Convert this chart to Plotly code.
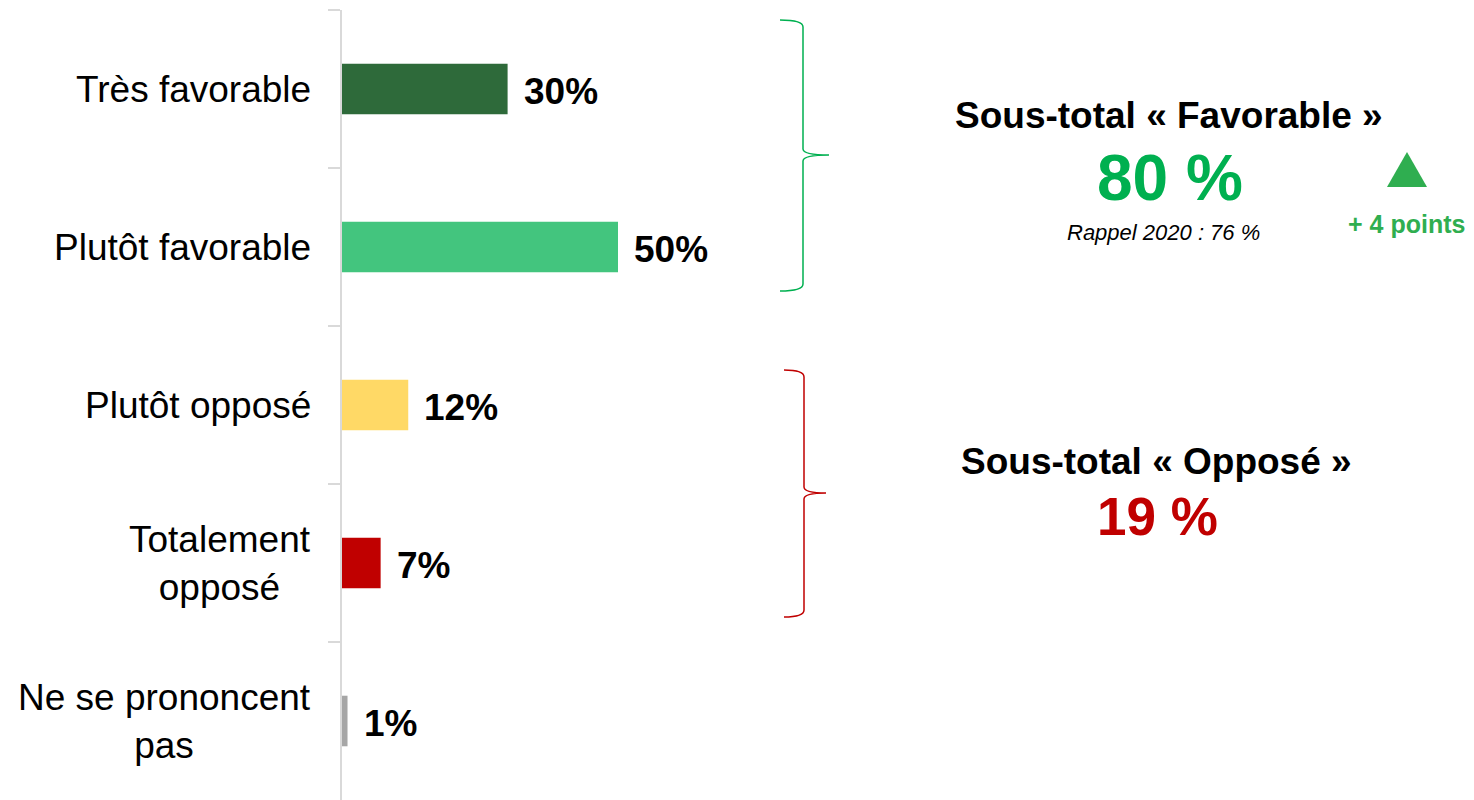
import plotly.graph_objects as go

# ---- data ----
categories = ["Très favorable", "Plutôt favorable", "Plutôt opposé",
              "Totalement<br>opposé", "Ne se prononcent<br>pas"]
values = [30, 50, 12, 7, 1]
bar_colors = ["#2e6a3a", "#43c57e", "#ffd966", "#c00000", "#a6a6a6"]
value_labels = ["30%", "50%", "12%", "7%", "1%"]

fav_title = "Sous-total « Favorable »"
fav_value = "80 %"
fav_reminder = "Rappel 2020 : 76 %"
fav_change = "+ 4 points"
opp_title = "Sous-total « Opposé »"
opp_value = "19 %"

# page body has an 8px margin: work in screen pixels, convert to figure
OFF = 8
W, H = 1474 - 2 * OFF, 800 - OFF
ML, MR, MT, MB = 342 - OFF, 0, 10 - OFF, 0
PW, PH = W - ML - MR, H - MT - MB
PX_PER_UNIT = 5.52
FONT = "Arial, Liberation Sans, sans-serif"


def px(x):
    return (x - OFF - ML) / PW


def py(y):
    return (H - MB - (y - OFF)) / PH


fig = go.Figure()
fig.add_trace(go.Bar(
    x=values, y=categories, orientation="h",
    marker=dict(color=bar_colors, line=dict(width=0)),
    width=0.32, hoverinfo="skip", showlegend=False,
))

annotations = []
for cat, lab, v in zip(categories, value_labels, values):
    annotations.append(dict(
        x=0, y=cat, xref="paper", yref="y", xanchor="right", yanchor="middle",
        xshift=-29, text=cat, showarrow=False, align="center",
        font=dict(family=FONT, size=37, color="#000000")))
    annotations.append(dict(
        x=v, y=cat, xref="x", yref="y", xanchor="left", yanchor="middle",
        xshift=14, yshift=-2, text="<b>" + lab + "</b>", showarrow=False,
        font=dict(family=FONT, size=37, color="#000000")))


def txt(x, y, text, size, color="#000000", family=FONT):
    annotations.append(dict(x=px(x), y=py(y), xref="paper", yref="paper",
                            xanchor="center", yanchor="middle", text=text,
                            showarrow=False,
                            font=dict(family=family, size=size, color=color)))


txt(1169, 115, "<b>" + fav_title + "</b>", 37)
txt(1170, 178, "<b>" + fav_value + "</b>", 64, "#00b050")
txt(1163, 233, "<i>" + fav_reminder + "</i>", 22, "#000000")
txt(1406, 224, "<b>" + fav_change + "</b>", 25, "#2fae50")
txt(1156, 462, "<b>" + opp_title + "</b>", 37)
txt(1157, 516, "<b>" + opp_value + "</b>", 53, "#c00000")


def brace(x_end, x_line, x_tip, y_top, y_mid, y_bot):
    pts = [
        f"M {px(x_end)},{py(y_top)}",
        f"Q {px(x_line)},{py(y_top)} {px(x_line)},{py(y_top + 7)}",
        f"L {px(x_line)},{py(y_mid - 6)}",
        f"Q {px(x_line)},{py(y_mid)} {px(x_tip)},{py(y_mid)}",
        f"Q {px(x_line)},{py(y_mid)} {px(x_line)},{py(y_mid + 6)}",
        f"L {px(x_line)},{py(y_bot - 7)}",
        f"Q {px(x_line)},{py(y_bot)} {px(x_end)},{py(y_bot)}",
    ]
    return " ".join(pts)


shapes = [
    dict(type="path", xref="paper", yref="paper",
         path=brace(780, 803, 829, 20, 155, 291),
         line=dict(color="#00b050", width=1.5)),
    dict(type="path", xref="paper", yref="paper",
         path=brace(784, 804, 826, 370, 493, 617),
         line=dict(color="#c00000", width=1.5)),
    dict(type="path", xref="paper", yref="paper",
         path=f"M {px(1387)},{py(187)} L {px(1427)},{py(187)} L {px(1407)},{py(152)} Z",
         fillcolor="#2fae50", line=dict(width=0)),
]

fig.update_layout(
    width=W, height=H,
    margin=dict(l=ML, r=MR, t=MT, b=MB),
    paper_bgcolor="white", plot_bgcolor="white",
    xaxis=dict(range=[0, PW / PX_PER_UNIT], visible=False, fixedrange=True),
    yaxis=dict(categoryorder="array", categoryarray=categories,
               autorange="reversed", showticklabels=False,
               showline=True, linecolor="#d9d9d9", linewidth=1.5,
               ticks="outside", tickson="boundaries", ticklen=12,
               tickcolor="#d9d9d9", tickwidth=1.5, showgrid=False,
               zeroline=False, fixedrange=True),
    annotations=annotations,
    shapes=shapes,
    bargap=0.68,
)

fig.write_html("out.html", config={"displayModeBar": False})
